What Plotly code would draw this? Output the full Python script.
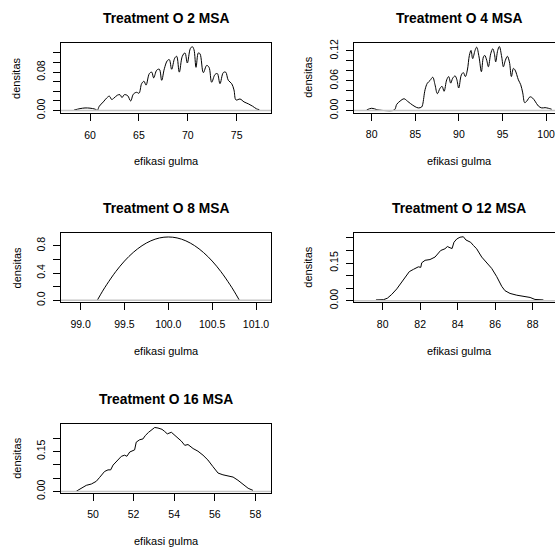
import plotly.graph_objects as go

FONT = "Liberation Sans, Arial, sans-serif"
W, H = 555, 556

titles = ["Treatment O 2 MSA", "Treatment O 4 MSA", "Treatment O 8 MSA",
          "Treatment O 12 MSA", "Treatment O 16 MSA"]
x_title = "efikasi gulma"
y_title = "densitas"

# ---- Treatment O 2 MSA (density curve)
o2_x = [58.36, 58.98, 59.49, 60.0, 60.51, 60.75, 60.95, 61.36, 61.7, 61.98,
        62.22, 62.45, 62.8, 63.07, 63.27, 63.51, 63.85, 64.16, 64.43, 64.77,
        65.01, 65.28, 65.52, 65.73, 66.07, 66.31, 66.51, 66.82, 67.09, 67.33,
        67.6, 67.91, 68.11, 68.35, 68.66, 68.86, 69.13, 69.44, 69.71, 69.95,
        70.26, 70.46, 70.63, 70.84, 71.08, 71.25, 71.59, 71.93, 72.17, 72.44,
        72.78, 73.02, 73.29, 73.63, 73.87, 74.14, 74.49, 74.72, 74.93, 75.34,
        75.75, 76.19, 76.63, 77.04, 77.31]
o2_y = [0.001, 0.004, 0.0054, 0.005, 0.003, 0.0007, 0.009, 0.018, 0.026, 0.030,
        0.023, 0.026, 0.032, 0.033, 0.027, 0.033, 0.031, 0.020, 0.034, 0.038,
        0.036, 0.056, 0.061, 0.053, 0.077, 0.080, 0.068, 0.084, 0.086, 0.063,
        0.087, 0.104, 0.106, 0.086, 0.109, 0.113, 0.080, 0.113, 0.120, 0.099,
        0.129, 0.133, 0.127, 0.090, 0.120, 0.118, 0.079, 0.094, 0.090, 0.059,
        0.075, 0.077, 0.056, 0.079, 0.080, 0.063, 0.056, 0.043, 0.022, 0.024,
        0.018, 0.014, 0.009, 0.0034, 0.002]

# ---- Treatment O 4 MSA
o4_x = [79.43, 80.0, 80.57, 80.76, 81.5, 82.6, 82.87, 83.25, 83.71, 84.09,
        84.47, 84.97, 85.35, 85.73, 85.85, 86.12, 86.38, 86.69, 87.0, 87.26,
        87.53, 87.84, 88.07, 88.3, 88.6, 88.83, 89.06, 89.29, 89.56, 89.75,
        89.98, 90.28, 90.51, 90.74, 90.97, 91.2, 91.39, 91.58, 91.85, 92.04,
        92.31, 92.58, 92.81, 92.96, 93.19, 93.38, 93.65, 93.88, 94.07, 94.22,
        94.45, 94.64, 94.91, 95.1, 95.33, 95.56, 95.79, 96.02, 96.25, 96.44,
        96.82, 97.09, 97.32, 97.55, 97.78, 98.16, 98.46, 98.73, 99.11, 99.5,
        99.88, 100.26, 100.64]
o4_y = [0.0013, 0.0046, 0.002, 0.0013, 0.0, 0.0013, 0.0125, 0.019, 0.0237, 0.019,
        0.0138, 0.0079, 0.0053, 0.0072, 0.0125, 0.042, 0.055, 0.0605, 0.067, 0.052,
        0.034, 0.045, 0.0487, 0.0388, 0.0618, 0.0684, 0.0552, 0.0651, 0.0697, 0.0631,
        0.0454, 0.0717, 0.0763, 0.0684, 0.0815, 0.111, 0.121, 0.1045, 0.121, 0.1275,
        0.1078, 0.0782, 0.1078, 0.111, 0.1012, 0.0881, 0.1144, 0.1243, 0.1144, 0.098,
        0.121, 0.1289, 0.1078, 0.0881, 0.1012, 0.1091, 0.098, 0.0684, 0.0848, 0.0815,
        0.0618, 0.052, 0.0355, 0.0158, 0.019, 0.0276, 0.025, 0.019, 0.0092, 0.0053,
        0.0059, 0.0046, 0.0026]

# ---- Treatment O 8 MSA
o8_x = [99.19, 99.25, 99.3, 99.4, 99.5, 99.6, 99.7, 99.8, 99.9, 100.0,
        100.1, 100.2, 100.3, 100.4, 100.5, 100.6, 100.7, 100.75, 100.81]
o8_y = [0.0, 0.133, 0.235, 0.42, 0.576, 0.703, 0.802, 0.873, 0.916, 0.93,
        0.916, 0.873, 0.802, 0.703, 0.576, 0.42, 0.235, 0.133, 0.0]

# ---- Treatment O 12 MSA
o12_x = [79.64, 80.04, 80.25, 80.48, 80.75, 81.01, 81.19, 81.42, 81.64, 81.9,
         82.03, 82.08, 82.26, 82.52, 82.79, 82.92, 83.09, 83.32, 83.45, 83.59,
         83.7, 83.8, 83.95, 84.12, 84.3, 84.44, 84.57, 84.69, 84.84, 85.01,
         85.28, 85.55, 85.81, 86.08, 86.35, 86.52, 86.79, 87.15, 87.5, 87.86,
         88.12, 88.48, 88.57]
o12_y = [0.003, 0.004, 0.010, 0.025, 0.047, 0.073, 0.090, 0.116, 0.125, 0.135,
         0.133, 0.151, 0.161, 0.164, 0.174, 0.185, 0.200, 0.207, 0.216, 0.211,
         0.208, 0.233, 0.246, 0.253, 0.255, 0.242, 0.237, 0.233, 0.220, 0.207,
         0.174, 0.151, 0.129, 0.096, 0.057, 0.040, 0.029, 0.022, 0.018, 0.013,
         0.005, 0.003, 0.003]

# ---- Treatment O 16 MSA
o16_x = [49.18, 49.43, 49.67, 49.92, 50.16, 50.33, 50.57, 50.74, 50.87, 50.99,
         51.2, 51.4, 51.56, 51.67, 51.81, 51.97, 52.05, 52.13, 52.3, 52.46,
         52.58, 52.74, 52.91, 53.04, 53.2, 53.4, 53.53, 53.66, 53.86, 54.1,
         54.35, 54.52, 54.68, 54.93, 55.17, 55.42, 55.66, 55.91, 56.16, 56.4,
         56.65, 56.9, 57.14, 57.39, 57.64, 57.88]
o16_y = [0.001, 0.013, 0.023, 0.028, 0.038, 0.053, 0.075, 0.081, 0.081, 0.099,
         0.118, 0.132, 0.136, 0.132, 0.148, 0.154, 0.156, 0.185, 0.194, 0.197,
         0.21, 0.222, 0.234, 0.24, 0.238, 0.233, 0.225, 0.216, 0.222, 0.206,
         0.189, 0.173, 0.176, 0.161, 0.151, 0.136, 0.118, 0.093, 0.069, 0.0625,
         0.059, 0.054, 0.042, 0.026, 0.012, 0.004]

# ---- tick values / labels
x_ticks = [[60, 65, 70, 75], [80, 85, 90, 95, 100],
           [99.0, 99.5, 100.0, 100.5, 101.0], [80, 82, 84, 86, 88],
           [50, 52, 54, 56, 58]]
x_ticktext = [["60", "65", "70", "75"], ["80", "85", "90", "95", "100"],
              ["99.0", "99.5", "100.0", "100.5", "101.0"],
              ["80", "82", "84", "86", "88"], ["50", "52", "54", "56", "58"]]
y_ticks = [[0, 0.02, 0.04, 0.06, 0.08, 0.10, 0.12],
           [0, 0.02, 0.04, 0.06, 0.08, 0.10, 0.12],
           [0, 0.2, 0.4, 0.6, 0.8],
           [0, 0.05, 0.10, 0.15, 0.20, 0.25],
           [0, 0.05, 0.10, 0.15, 0.20]]
y_ticktext = [["0.00", "", "", "", "0.08", "", ""],
              ["0.00", "", "", "0.06", "", "", "0.12"],
              ["0.0", "", "0.4", "", "0.8"],
              ["0.00", "", "", "0.15", "", ""],
              ["0.00", "", "", "0.15", ""]]

# ---- layout geometry (window pixels)
boxes = [(61, 271, 40, 111.5), (354, 555, 39.5, 111),
         (61, 271, 234, 304), (354, 555, 234, 304),
         (61, 271, 428, 498.5)]
x_ranges = [(57.035, 78.507), (77.97, 101.02), (98.776, 101.171),
            (78.469, 89.189), (48.424, 58.768)]
y_ranges = [(-0.0057, 0.1402), (-0.0045, 0.1365), (-0.026, 0.983),
            (-0.0051, 0.2684), (-0.0044, 0.2548)]
centers_x = [166, 459, 166, 459, 166]
ylab_x = [16.7, 308, 16.7, 308, 16.7]
title_y = [15, 15, 209, 209, 403]
xlab_y = [160, 160, 354, 354, 548]

xs = [o2_x, o4_x, o8_x, o12_x, o16_x]
ys = [o2_y, o4_y, o8_y, o12_y, o16_y]
line_kind = ["spline", "spline", "spline", "linear", "linear"]


def px(p):
    return p / W


def py(p):
    return 1 - p / H


fig = go.Figure()
layout = dict(width=W, height=H, autosize=False,
              margin=dict(l=0, r=0, t=0, b=0),
              paper_bgcolor="white", plot_bgcolor="white",
              showlegend=False, shapes=[], annotations=[])

tickfont = dict(family=FONT, size=10.5, color="black")
for i in range(5):
    n = "" if i == 0 else str(i + 1)
    L, R, T, B = boxes[i]
    right_col = i in (1, 3)
    fig.add_trace(go.Scatter(x=xs[i], y=ys[i], mode="lines",
                             line=dict(color="black", width=1, shape=line_kind[i]),
                             xaxis="x" + n, yaxis="y" + n, hoverinfo="skip"))
    layout["xaxis" + n] = dict(domain=[px(L), min(px(R), 1.0)], range=list(x_ranges[i]),
                               anchor="y" + n, tickmode="array", tickvals=x_ticks[i],
                               ticktext=x_ticktext[i], ticks="outside", ticklen=7,
                               tickwidth=1, tickcolor="black", showline=True,
                               linecolor="black", linewidth=1, mirror=True,
                               showgrid=False, zeroline=False, tickfont=tickfont,
                               ticklabelstandoff=5, ticklabeloverflow="allow",
                               fixedrange=True)
    layout["yaxis" + n] = dict(domain=[py(B), py(T)], range=list(y_ranges[i]),
                               anchor="x" + n, tickmode="array", tickvals=y_ticks[i],
                               ticktext=y_ticktext[i], ticks="outside", ticklen=7,
                               tickwidth=1, tickcolor="black", showline=True,
                               linecolor="black", linewidth=1,
                               mirror=(not right_col),
                               showgrid=False, zeroline=False, tickfont=tickfont,
                               tickangle=-90, ticklabelstandoff=4,
                               ticklabeloverflow="allow", fixedrange=True)
    # grey zero line
    layout["shapes"].append(dict(type="line", xref="x" + n + " domain", x0=0, x1=1,
                                 yref="y" + n, y0=0, y1=0, layer="above",
                                 line=dict(color="#C4C4C4", width=1.6)))
    # title
    layout["annotations"].append(dict(text="<b>" + titles[i] + "</b>", xref="paper",
                                      yref="paper", x=px(centers_x[i]), y=py(title_y[i]),
                                      xanchor="center", yanchor="middle", showarrow=False,
                                      font=dict(family=FONT, size=13.8, color="black")))
    layout["annotations"].append(dict(text=x_title, xref="paper", yref="paper",
                                      x=px(centers_x[i]), y=py(xlab_y[i]),
                                      xanchor="center", yanchor="middle", showarrow=False,
                                      font=dict(family=FONT, size=11, color="black")))
    layout["annotations"].append(dict(text=y_title, xref="paper", yref="paper",
                                      x=px(ylab_x[i]), y=py((T + B) / 2), textangle=-90,
                                      xanchor="center", yanchor="middle", showarrow=False,
                                      font=dict(family=FONT, size=11, color="black")))

fig.update_layout(**layout)
fig.write_html("out.html", config={"displayModeBar": False},
               post_script="document.body.style.margin='0px';"
                           "document.body.style.overflow='hidden';")
